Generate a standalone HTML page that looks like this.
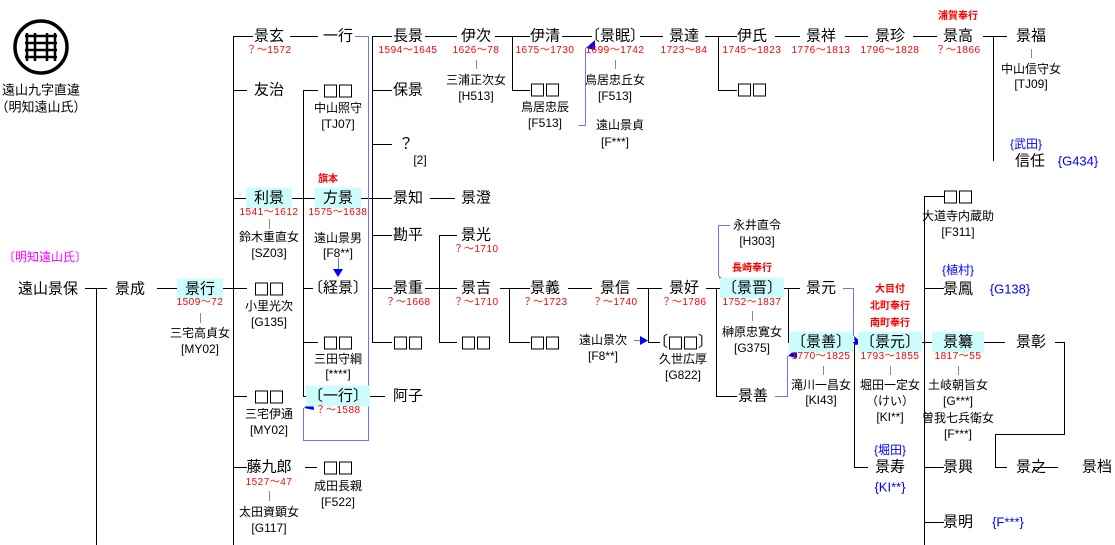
<!DOCTYPE html>
<html><head><meta charset="utf-8"><style>
body{margin:0;background:#fff;width:1115px;height:545px;overflow:hidden;position:relative;font-family:"Liberation Sans","Noto Sans CJK JP",sans-serif;color:#000}
.c{position:absolute;transform:translate(-50%,-50%);white-space:nowrap;line-height:1}
.n{font-size:15px}
.s{font-size:12px}
.r{font-size:10px;color:#f00;letter-spacing:.5px}
.rb{font-size:10px;color:#f00;font-weight:bold}
.b{font-size:13px;color:#00f}
.bx{background:#ccfcfc;padding:3px 2px}
.q{display:inline-block;width:11px;height:11px;border:1.5px solid #000;margin:0 1px;vertical-align:middle}
svg{position:absolute;left:0;top:0}
</style></head><body>
<svg width="1115" height="545">
<g stroke="#000" stroke-width="1" fill="none">
<circle cx="41" cy="47" r="26" stroke-width="3.5"/>
<g stroke-width="2.5"><line x1="27" y1="33" x2="27" y2="61"/><line x1="35" y1="33" x2="35" y2="61"/><line x1="47" y1="33" x2="47" y2="61"/><line x1="55" y1="33" x2="55" y2="61"/><line x1="25" y1="36" x2="57" y2="36"/><line x1="25" y1="43" x2="57" y2="43"/><line x1="25" y1="50" x2="57" y2="50"/><line x1="25" y1="57" x2="57" y2="57"/></g>
<path d="M96.5 288V545M233.5 36V545M303.5 90V396M372.5 36V342M439.5 235V342M509.5 288V342M512.5 36V90M648.5 288V342M716.5 288V396M718.5 36V90M788.5 288V342M854.5 342V467M924.5 196V545M993.5 36V161"/>
<path d="M233 36.5H253M290 36.5H318M372 36.5H392M425 36.5H457M495 36.5H530M562 36.5H592M640 36.5H663M705 36.5H737M775 36.5H800M845 36.5H868M913 36.5H937M983 36.5H1007"/>
<path d="M233 90.5H247M303 90.5H318M372 90.5H392M512 90.5H530M718 90.5H737M372 144.5H392"/>
<path d="M233 198.5H246M292 198.5H315M361 198.5H392M430 198.5H455M924 196.5H944M372 235.5H392M439 235.5H457"/>
<path d="M85 288.5H107M157 288.5H177M223 288.5H247M303 288.5H313M372 288.5H392M425 288.5H457M500 288.5H530M568 288.5H592M637 288.5H662M706 288.5H727M778 288.5H800M924 288.5H944"/>
<path d="M303 342.5H318M372 342.5H392M439 342.5H457M509 342.5H530M648 342.5H660M788 342.5H798M848 342.5H868M913 342.5H944M982 342.5H1005M1055 342.5H1064.5V434.5H995.5V467.5H1007"/>
<path d="M233 396.5H247M303 396.5H313M365 396.5H385M716 396.5H737"/>
<path d="M233 467.5H247M305 467.5H317M854 467.5H868M924 467.5H944M1033 467.5H1058M924 522.5H944"/>
</g>
<g stroke="#888" stroke-width="1">
<path d="M200.5 313V323M269.5 219V229M269.5 491V501M476.5 60V69M615.5 60V69M752.5 311V321M823.5 366V375M890.5 366V375M958.5 366V375M1031.5 49V58"/>
</g>
<g stroke="#7070ff" stroke-width="1" fill="none">
<path d="M355 36.5H368.5V440.5H303.5V408"/>
<path d="M578.5 125.5H585.5V48"/>
<path d="M730 225.5H718.5V276"/>
<path d="M338.5 258V270"/>
<path d="M634 340.5H640"/>
<path d="M843 288.5H853.5V336"/>
<path d="M775 396.5H787.5V356"/>
</g>
<g fill="#0000ff">
<polygon points="304,408 313,400 314,410"/>
<polygon points="586,48 595,40 595,50"/>
<polygon points="719,276 729,282 721,283"/>
<polygon points="333,269 343,269 338,277"/>
<polygon points="640,336 648,340.5 640,345"/>
<polygon points="854,336 863,344 855,345"/>
<polygon points="788,356 797,348 797,358"/>
</g>
</svg>

<div class="c s" style="left:41px;top:90px;font-size:13px">遠山九字直違</div>
<div class="c s" style="left:41px;top:107px;font-size:13px">（明知遠山氏）</div>
<div class="c" style="left:45px;top:257px;font-size:12px;color:#f0f">〔明知遠山氏〕</div>

<div class="c n" style="left:48px;top:289px">遠山景保</div>
<div class="c n" style="left:130px;top:289px">景成</div>
<div class="c n bx" style="left:200px;top:289px;padding:3px 8px">景行</div>
<div class="c r" style="left:200px;top:303px">1509〜72</div>
<div class="c s" style="left:200px;top:333px">三宅高貞女</div>
<div class="c s" style="left:200px;top:349px">[MY02]</div>

<div class="c n" style="left:269px;top:36px">景玄</div>
<div class="c r" style="left:269px;top:51px">？〜1572</div>
<div class="c n" style="left:338px;top:36px">一行</div>
<div class="c n" style="left:269px;top:90px">友治</div>
<div class="c n" style="left:338px;top:90px"><span class="q"></span><span class="q"></span></div>
<div class="c s" style="left:338px;top:108px">中山照守</div>
<div class="c s" style="left:338px;top:124px">[TJ07]</div>
<div class="c rb" style="left:328px;top:180px">旗本</div>
<div class="c n bx" style="left:269px;top:198px;padding:3px 8px">利景</div>
<div class="c r" style="left:269px;top:213px">1541〜1612</div>
<div class="c s" style="left:269px;top:237px">鈴木重直女</div>
<div class="c s" style="left:269px;top:253px">[SZ03]</div>
<div class="c n bx" style="left:338px;top:198px;padding:3px 8px">方景</div>
<div class="c r" style="left:338px;top:213px">1575〜1638</div>
<div class="c s" style="left:338px;top:238px">遠山景男</div>
<div class="c s" style="left:338px;top:253px">[F8**]</div>
<div class="c n" style="left:269px;top:288px"><span class="q"></span><span class="q"></span></div>
<div class="c s" style="left:269px;top:306px">小里光次</div>
<div class="c s" style="left:269px;top:322px">[G135]</div>
<div class="c n" style="left:338px;top:288px">〔経景〕</div>
<div class="c n" style="left:338px;top:342px"><span class="q"></span><span class="q"></span></div>
<div class="c s" style="left:338px;top:359px">三田守綱</div>
<div class="c s" style="left:338px;top:374px">[****]</div>
<div class="c n" style="left:269px;top:396px"><span class="q"></span><span class="q"></span></div>
<div class="c s" style="left:269px;top:414px">三宅伊通</div>
<div class="c s" style="left:269px;top:430px">[MY02]</div>
<div class="c n bx" style="left:338px;top:396px">〔一行〕</div>
<div class="c r" style="left:338px;top:411px">？〜1588</div>
<div class="c n" style="left:269px;top:467px">藤九郎</div>
<div class="c r" style="left:269px;top:483px">1527〜47</div>
<div class="c s" style="left:269px;top:512px">太田資顕女</div>
<div class="c s" style="left:269px;top:528px">[G117]</div>
<div class="c n" style="left:338px;top:467px"><span class="q"></span><span class="q"></span></div>
<div class="c s" style="left:338px;top:486px">成田長親</div>
<div class="c s" style="left:338px;top:502px">[F522]</div>

<div class="c n" style="left:408px;top:36px">長景</div>
<div class="c r" style="left:408px;top:51px">1594〜1645</div>
<div class="c n" style="left:408px;top:90px">保景</div>
<div class="c n" style="left:406px;top:144px">？</div>
<div class="c s" style="left:420px;top:160px">[2]</div>
<div class="c n" style="left:408px;top:198px">景知</div>
<div class="c n" style="left:408px;top:235px">勘平</div>
<div class="c n" style="left:408px;top:288px">景重</div>
<div class="c r" style="left:408px;top:303px">？〜1668</div>
<div class="c n" style="left:408px;top:342px"><span class="q"></span><span class="q"></span></div>
<div class="c n" style="left:408px;top:396px">阿子</div>

<div class="c n" style="left:476px;top:36px">伊次</div>
<div class="c r" style="left:476px;top:51px">1626〜78</div>
<div class="c s" style="left:476px;top:80px">三浦正次女</div>
<div class="c s" style="left:476px;top:96px">[H513]</div>
<div class="c n" style="left:476px;top:198px">景澄</div>
<div class="c n" style="left:476px;top:235px">景光</div>
<div class="c r" style="left:476px;top:250px">？〜1710</div>
<div class="c n" style="left:476px;top:288px">景吉</div>
<div class="c r" style="left:476px;top:303px">？〜1710</div>
<div class="c n" style="left:476px;top:342px"><span class="q"></span><span class="q"></span></div>

<div class="c n" style="left:545px;top:36px">伊清</div>
<div class="c r" style="left:545px;top:51px">1675〜1730</div>
<div class="c n" style="left:545px;top:89px"><span class="q"></span><span class="q"></span></div>
<div class="c s" style="left:545px;top:107px">鳥居忠辰</div>
<div class="c s" style="left:545px;top:123px">[F513]</div>
<div class="c n" style="left:545px;top:288px">景義</div>
<div class="c r" style="left:545px;top:303px">？〜1723</div>
<div class="c n" style="left:545px;top:342px"><span class="q"></span><span class="q"></span></div>

<div class="c n" style="left:615px;top:36px">〔景眠〕</div>
<div class="c r" style="left:615px;top:51px">1699〜1742</div>
<div class="c s" style="left:615px;top:80px">鳥居忠丘女</div>
<div class="c s" style="left:615px;top:96px">[F513]</div>
<div class="c s" style="left:620px;top:125px">遠山景貞</div>
<div class="c s" style="left:615px;top:142px">[F***]</div>
<div class="c n" style="left:615px;top:288px">景信</div>
<div class="c r" style="left:615px;top:303px">？〜1740</div>
<div class="c s" style="left:603px;top:340px">遠山景次</div>
<div class="c s" style="left:603px;top:356px">[F8**]</div>

<div class="c n" style="left:684px;top:36px">景達</div>
<div class="c r" style="left:684px;top:51px">1723〜84</div>
<div class="c n" style="left:684px;top:288px">景好</div>
<div class="c r" style="left:684px;top:303px">？〜1786</div>
<div class="c n" style="left:683px;top:342px">〔<span class="q"></span><span class="q"></span>〕</div>
<div class="c s" style="left:683px;top:359px">久世広厚</div>
<div class="c s" style="left:683px;top:375px">[G822]</div>

<div class="c n" style="left:752px;top:36px">伊氏</div>
<div class="c r" style="left:752px;top:51px">1745〜1823</div>
<div class="c n" style="left:752px;top:89px"><span class="q"></span><span class="q"></span></div>
<div class="c s" style="left:757px;top:225px">永井直令</div>
<div class="c s" style="left:757px;top:241px">[H303]</div>
<div class="c rb" style="left:752px;top:269px">長崎奉行</div>
<div class="c n bx" style="left:752px;top:288px">〔景晋〕</div>
<div class="c r" style="left:752px;top:303px">1752〜1837</div>
<div class="c s" style="left:752px;top:332px">榊原忠寛女</div>
<div class="c s" style="left:752px;top:348px">[G375]</div>
<div class="c n" style="left:753px;top:396px">景善</div>

<div class="c n" style="left:821px;top:36px">景祥</div>
<div class="c r" style="left:821px;top:51px">1776〜1813</div>
<div class="c n" style="left:821px;top:288px">景元</div>
<div class="c n bx" style="left:821px;top:342px">〔景善〕</div>
<div class="c r" style="left:821px;top:357px">1770〜1825</div>
<div class="c s" style="left:821px;top:385px">滝川一昌女</div>
<div class="c s" style="left:821px;top:400px">[KI43]</div>

<div class="c n" style="left:890px;top:36px">景珍</div>
<div class="c r" style="left:890px;top:51px">1796〜1828</div>
<div class="c rb" style="left:890px;top:290px">大目付</div>
<div class="c rb" style="left:890px;top:307px">北町奉行</div>
<div class="c rb" style="left:890px;top:324px">南町奉行</div>
<div class="c n bx" style="left:890px;top:342px">〔景元〕</div>
<div class="c r" style="left:890px;top:357px">1793〜1855</div>
<div class="c s" style="left:890px;top:385px">堀田一定女</div>
<div class="c s" style="left:890px;top:401px">（けい）</div>
<div class="c s" style="left:890px;top:417px">[KI**]</div>
<div class="c b" style="left:890px;top:450px;font-size:12px">{堀田}</div>
<div class="c n" style="left:890px;top:467px">景寿</div>
<div class="c b" style="left:890px;top:487px">{KI**}</div>

<div class="c rb" style="left:958px;top:17px">浦賀奉行</div>
<div class="c n" style="left:958px;top:36px">景高</div>
<div class="c r" style="left:958px;top:51px">？〜1866</div>
<div class="c n" style="left:958px;top:196px"><span class="q"></span><span class="q"></span></div>
<div class="c s" style="left:958px;top:216px">大道寺内蔵助</div>
<div class="c s" style="left:958px;top:232px">[F311]</div>
<div class="c b" style="left:958px;top:270px;font-size:12px">{植村}</div>
<div class="c n" style="left:958px;top:289px">景鳳</div>
<div class="c b" style="left:1010px;top:289px">{G138}</div>
<div class="c n bx" style="left:958px;top:342px;padding:3px 11px">景纂</div>
<div class="c r" style="left:958px;top:357px">1817〜55</div>
<div class="c s" style="left:958px;top:385px">土岐朝旨女</div>
<div class="c s" style="left:958px;top:401px">[G***]</div>
<div class="c s" style="left:958px;top:418px">曽我七兵衛女</div>
<div class="c s" style="left:958px;top:434px">[F***]</div>
<div class="c n" style="left:958px;top:467px">景興</div>
<div class="c n" style="left:958px;top:522px">景明</div>
<div class="c b" style="left:1008px;top:522px">{F***}</div>

<div class="c n" style="left:1031px;top:36px">景福</div>
<div class="c s" style="left:1031px;top:69px">中山信守女</div>
<div class="c s" style="left:1031px;top:84px">[TJ09]</div>
<div class="c b" style="left:1026px;top:144px;font-size:12px">{武田}</div>
<div class="c n" style="left:1030px;top:161px">信任</div>
<div class="c b" style="left:1078px;top:161px">{G434}</div>
<div class="c n" style="left:1031px;top:342px">景彰</div>
<div class="c n" style="left:1031px;top:467px">景之</div>
<div class="c n" style="left:1097px;top:467px">景档</div>
</body></html>
